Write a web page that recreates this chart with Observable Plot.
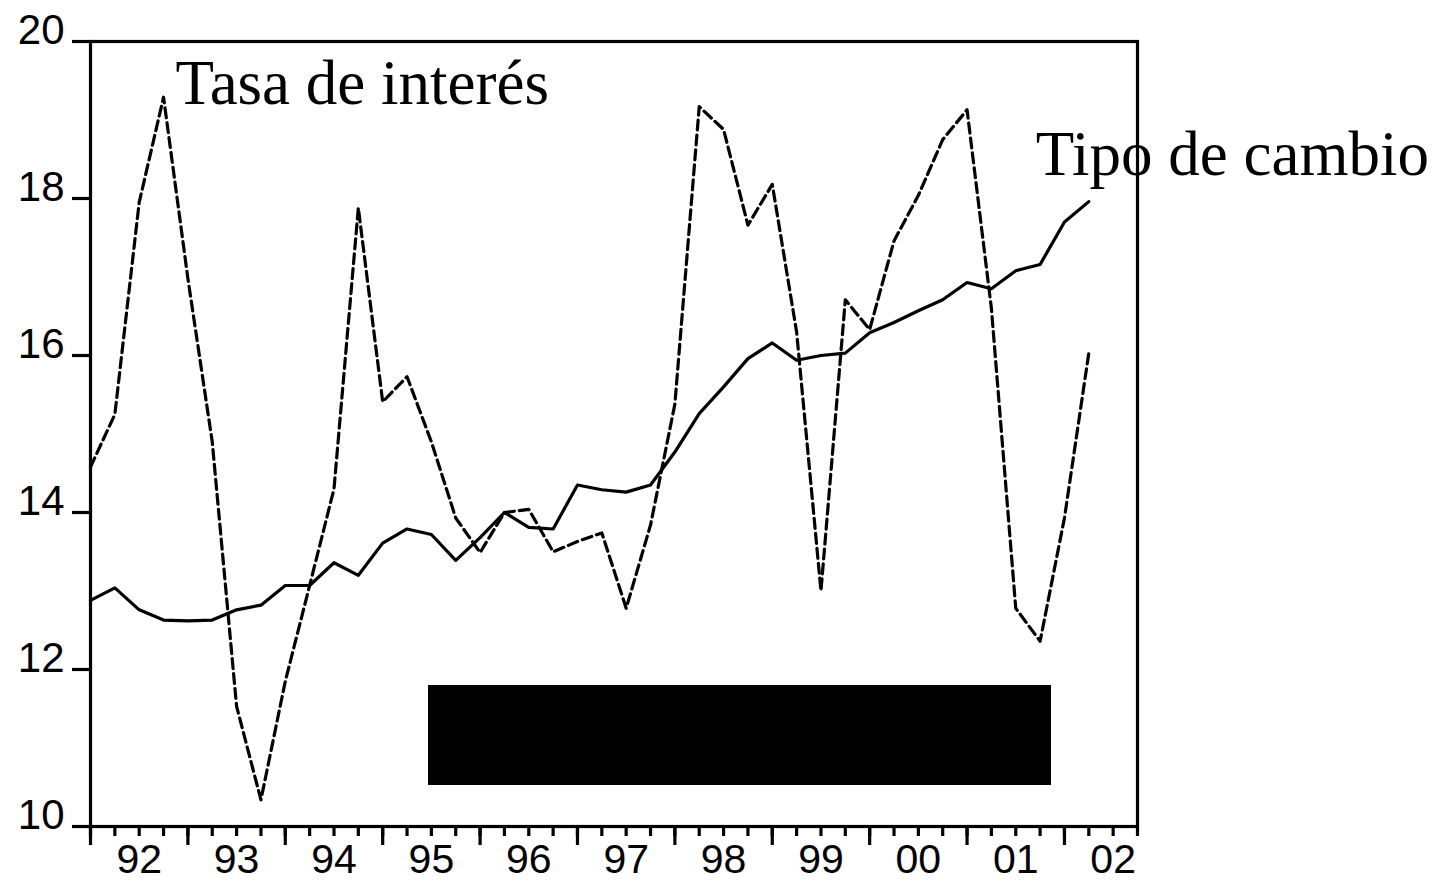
<!DOCTYPE html>
<html>
<head>
<meta charset="utf-8">
<script src="https://cdn.jsdelivr.net/npm/d3@7"></script>
<script src="https://cdn.jsdelivr.net/npm/@observablehq/plot@0.6"></script>
<style>
  html, body { margin: 0; padding: 0; background: white; }
  #wrap { position: relative; width: 1441px; height: 881px; }
  #redact { position: absolute; left: 428px; top: 685px; width: 623px; height: 100px; background: #000; }
</style>
</head>
<body>
<div id="wrap"></div>
<script>
// Quarterly data, 1992Q1 .. 2002Q2
const startYear = 1992;
const tasaDeInteres = [14.58, 15.25, 17.95, 19.29, 16.98, 14.9, 11.53, 10.34, 11.85, 13.07,
  14.3, 17.88, 15.41, 15.73, 14.9, 13.93, 13.49, 14.0, 14.04, 13.5,
  13.63, 13.74, 12.78, 13.84, 15.38, 19.17, 18.88, 17.66, 18.18, 16.3,
  13.0, 16.71, 16.33, 17.46, 18.04, 18.75, 19.13, 16.6, 12.78, 12.36,
  13.93, 16.03];
const tipoDeCambio = [12.88, 13.04, 12.76, 12.63, 12.62, 12.63, 12.76, 12.82, 13.07, 13.07,
  13.36, 13.2, 13.61, 13.79, 13.72, 13.39, 13.68, 14.0, 13.81, 13.79,
  14.35, 14.29, 14.26, 14.35, 14.77, 15.26, 15.6, 15.96, 16.16, 15.94,
  16.0, 16.03, 16.29, 16.42, 16.57, 16.71, 16.93, 16.85, 17.08, 17.16,
  17.70, 17.96];
const yTicks = [10, 12, 14, 16, 18, 20];
const yearTicks = [1992, 1993, 1994, 1995, 1996, 1997, 1998, 1999, 2000, 2001, 2002];
const yearLabels = ["92", "93", "94", "95", "96", "97", "98", "99", "00", "01", "02"];
const seriesLabels = ["Tasa de interés", "Tipo de cambio"];

const data = tasaDeInteres.map((v, i) => ({t: startYear + i / 4, tasa: v, tipo: tipoDeCambio[i]}));
const quarterTicks = d3.range(0, 44).map(k => startYear + k / 4);
const yearLabelData = yearTicks.map((y, i) => ({t: y + 0.5, label: yearLabels[i]}));

const sans = "'Liberation Sans', Arial, sans-serif";
const serif = "'Liberation Serif', 'Times New Roman', serif";
const sw = 3.2;

const chart = Plot.plot({
  width: 1441,
  height: 881,
  marginLeft: 90,
  marginRight: 304,
  marginTop: 41,
  marginBottom: 55,
  style: {background: "white", overflow: "visible", fontFamily: sans},
  x: {type: "linear", domain: [startYear, startYear + 43 / 4], axis: null},
  y: {domain: [10, 20], axis: null},
  marks: [
    Plot.line(data, {x: "t", y: "tipo", stroke: "black", strokeWidth: sw}),
    Plot.line(data, {x: "t", y: "tasa", stroke: "black", strokeWidth: sw, strokeDasharray: "10,5"}),
    Plot.frame({stroke: "black", strokeWidth: sw}),
    Plot.axisY({ticks: yTicks, tickSize: 18, tickFormat: () => "", strokeWidth: sw, anchor: "left", label: null}),
    Plot.axisX({ticks: quarterTicks, tickSize: 10, tickFormat: () => "", strokeWidth: sw, anchor: "bottom", label: null}),
    Plot.axisX({ticks: yearTicks, tickSize: 19, tickFormat: () => "", strokeWidth: sw, anchor: "bottom", label: null}),
    Plot.text(yTicks, {y: d => d, text: d => String(d), frameAnchor: "left", dx: -26, dy: 2,
      textAnchor: "end", lineAnchor: "bottom", fontSize: 42, fontFamily: sans, fill: "black"}),
    Plot.text(yearLabelData, {x: "t", text: "label", frameAnchor: "bottom", dy: 46,
      textAnchor: "middle", lineAnchor: "bottom", fontSize: 41, fontFamily: sans, fill: "black"}),
    Plot.text([data[3]], {x: "t", y: "tasa", text: () => seriesLabels[0], dx: 12, dy: 7,
      textAnchor: "start", lineAnchor: "bottom", fontSize: 63, fontFamily: serif, fill: "black"}),
    Plot.text([data[data.length - 1]], {x: "t", y: "tipo", text: () => seriesLabels[1], dx: -53, dy: -27,
      textAnchor: "start", lineAnchor: "bottom", fontSize: 63, fontFamily: serif, fill: "black"})
  ]
});

const wrap = document.getElementById("wrap");
wrap.appendChild(chart);
const box = document.createElement("div");
box.id = "redact";
wrap.appendChild(box);
</script>
</body>
</html>
